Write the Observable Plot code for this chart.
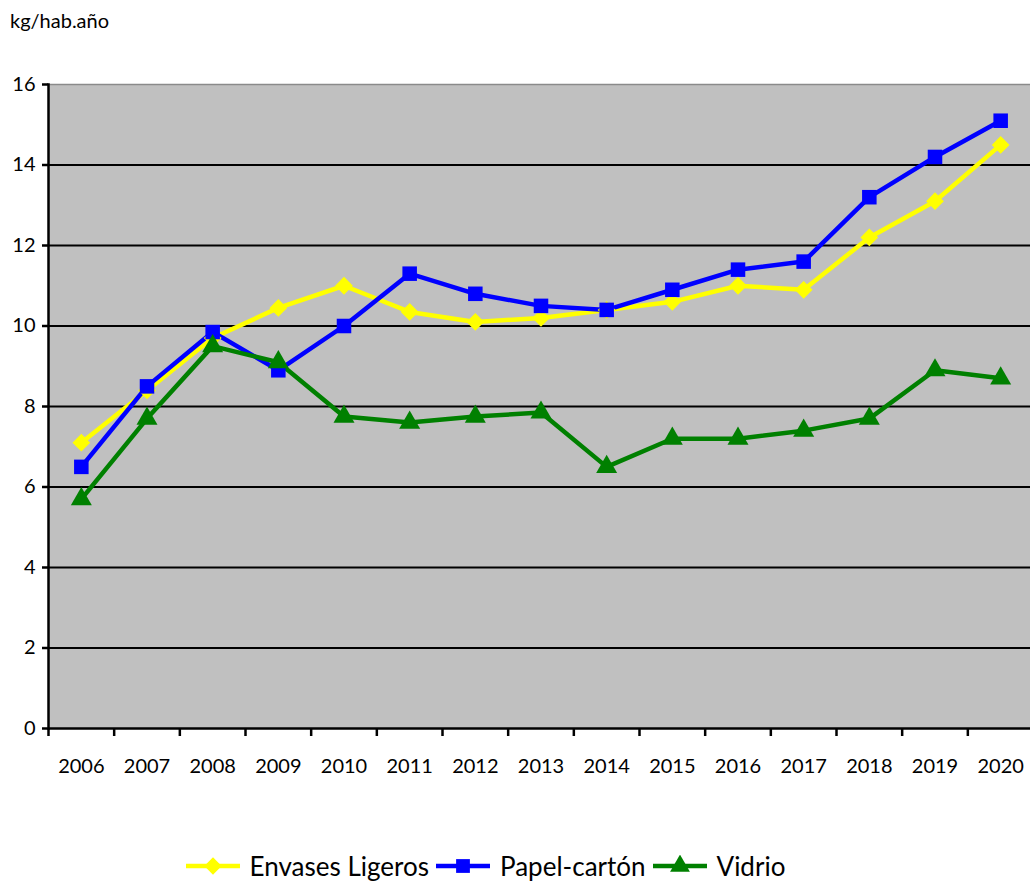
<!DOCTYPE html>
<html><head><meta charset="utf-8">
<script src="https://cdn.jsdelivr.net/npm/d3@7"></script>
<script src="https://cdn.jsdelivr.net/npm/@observablehq/plot@0.6"></script>
<style>
body{margin:0;background:#fff;font-family:Lato,"Open Sans",sans-serif;width:1030px;height:885px;overflow:hidden;position:relative}
#title{position:absolute;left:10px;top:8px;font-size:20px;color:#000}
#chart{position:absolute;left:0;top:0}
#legend{position:absolute;left:0;top:850px;width:970px;padding-right:60px;display:flex;justify-content:center;align-items:center;font-size:26px;color:#000}
#legend .item{display:flex;align-items:center;margin:0 3px}
#legend svg{margin-right:9px}
</style></head><body>
<div id="title">kg/hab.año</div>
<div id="chart"></div>
<div id="legend"></div>
<script>
const years = [2006,2007,2008,2009,2010,2011,2012,2013,2014,2015,2016,2017,2018,2019,2020];
const envases = [7.1,8.4,9.7,10.45,11.0,10.35,10.1,10.2,10.4,10.6,11.0,10.9,12.2,13.1,14.5];
const papel = [6.5,8.5,9.85,8.9,10.0,11.3,10.8,10.5,10.4,10.9,11.4,11.6,13.2,14.2,15.1];
const vidrio = [5.7,7.7,9.5,9.1,7.75,7.6,7.75,7.85,6.5,7.2,7.2,7.4,7.7,8.9,8.7];
const seriesNames = ["Envases Ligeros","Papel-cartón","Vidrio"];
const seriesColors = ["#ffff00","#0000ff","#008000"];
const seriesSymbols = ["diamond2","square","triangle"];
const yTicks = [0,2,4,6,8,10,12,14,16];

const rows = [];
[envases,papel,vidrio].forEach((vals,i)=>vals.forEach((v,j)=>rows.push({year:years[j],value:v,series:seriesNames[i]})));

const boundaries = d3.range(years[0]-0.5, years[years.length-1]+1, 1);
const markerR = {"Envases Ligeros":8,"Papel-cartón":8.2,"Vidrio":7.8};

const W=1030,H=800;
const plot = Plot.plot({
  width:W,height:H,
  marginLeft:48,marginRight:0,marginTop:84,marginBottom:H-728,
  style:{fontFamily:"Lato, 'Open Sans', sans-serif",fontSize:"20px",color:"#000",background:"transparent",overflow:"visible"},
  x:{type:"linear",domain:[years[0]-0.5,years[years.length-1]+0.5],range:[48,1033],label:null},
  y:{domain:[0,16],label:null},
  color:{domain:seriesNames,range:seriesColors},
  symbol:{domain:seriesNames,range:seriesSymbols},
  marks:[
    Plot.frame({fill:"#c0c0c0",stroke:null}),
    Plot.ruleY(yTicks.filter(d=>d>0&&d<16),{stroke:"#000",strokeWidth:2}),
    Plot.ruleY([16],{stroke:"#8a8a8a",strokeWidth:1.5}),
    Plot.ruleY([0],{stroke:"#000",strokeWidth:2.5}),
    Plot.frame({anchor:"left",stroke:"#000",strokeWidth:2.5}),
    Plot.axisY({ticks:yTicks,tickSize:6,tickPadding:7,tickFormat:d=>String(d),strokeWidth:2.5,fontSize:20,label:null}),
    Plot.axisX({ticks:boundaries,tickSize:8,tickFormat:()=>"",strokeWidth:2.5,label:null}),
    Plot.axisX({ticks:years,tickSize:0,tickPadding:30,tickFormat:d=>String(d),fontSize:20,label:null}),
    Plot.line(rows,{x:"year",y:"value",z:"series",stroke:"series",strokeWidth:4.5,strokeLinejoin:"miter"}),
    ...seriesNames.map(s=>Plot.dot(rows.filter(d=>d.series===s),{x:"year",y:"value",fill:"series",symbol:"series",stroke:null,r:markerR[s]}))
  ]
});
document.getElementById("chart").appendChild(plot);

// legend
const lg = document.getElementById("legend");
const symPaths = {
  "diamond2": d3.symbol(d3.symbolDiamond2, 190)(),
  "square": d3.symbol(d3.symbolSquare, 190)(),
  "triangle": d3.symbol(d3.symbolTriangle, 170)()
};
seriesNames.forEach((name,i)=>{
  const item=document.createElement("div");item.className="item";
  item.innerHTML=`<svg width="56" height="22" viewBox="-28 -11 56 22"><line x1="-27" x2="27" y1="0" y2="0" stroke="${seriesColors[i]}" stroke-width="4.5"/><path d="${symPaths[seriesSymbols[i]]}" fill="${seriesColors[i]}"/></svg><span>${name}</span>`;
  lg.appendChild(item);
});
</script>
</body></html>
